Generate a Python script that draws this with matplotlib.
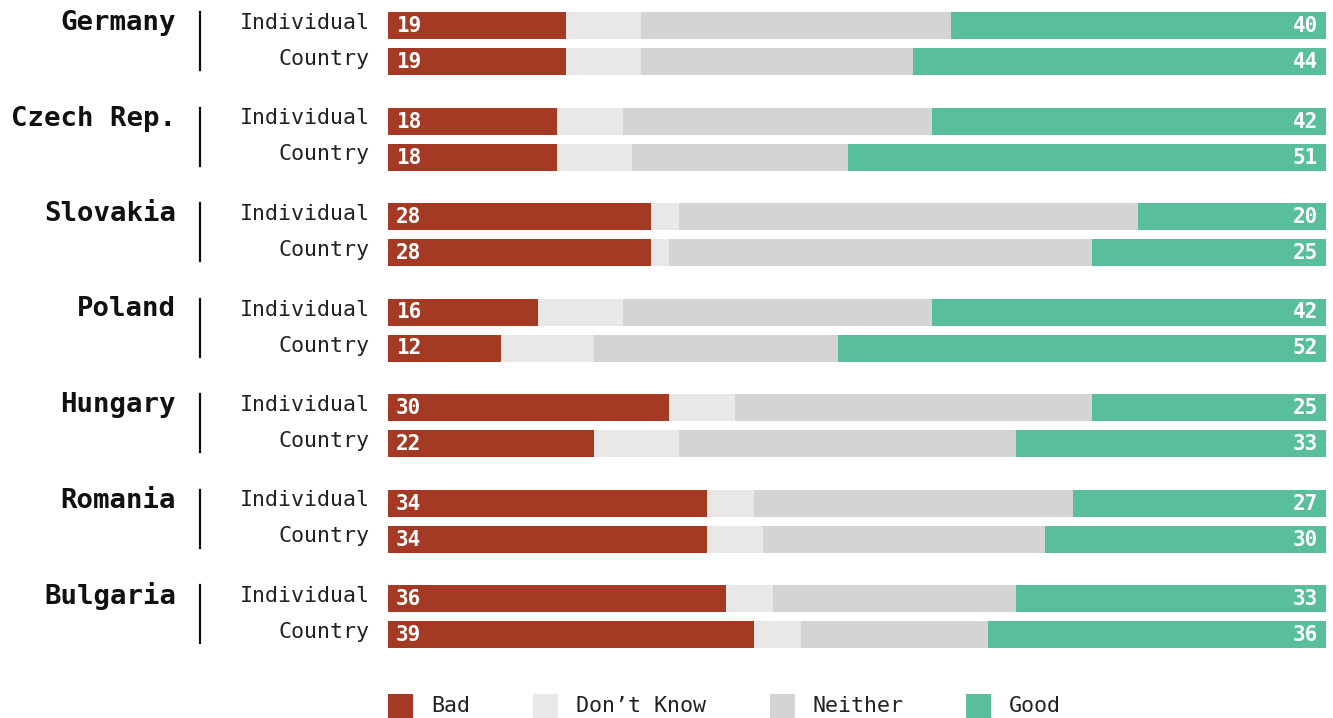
import matplotlib
matplotlib.use("Agg")
import matplotlib.pyplot as plt
from matplotlib.patches import Rectangle
from matplotlib.transforms import blended_transform_factory
from matplotlib.lines import Line2D

countries = ["Germany", "Czech Rep.", "Slovakia", "Poland", "Hungary", "Romania", "Bulgaria"]
rows = ["Individual", "Country"]

# per country: [Individual, Country]
bad = [[19, 19], [18, 18], [28, 28], [16, 12], [30, 22], [34, 34], [36, 39]]
dont_know = [[8, 8], [7, 8], [3, 2], [9, 10], [7, 9], [5, 6], [5, 5]]
neither = [[33, 29], [33, 23], [49, 45], [33, 26], [38, 36], [34, 30], [26, 20]]
good = [[40, 44], [42, 51], [20, 25], [42, 52], [25, 33], [27, 30], [33, 36]]

categories = ["Bad", "Don\u2019t Know", "Neither", "Good"]
colors = ["#A53A24", "#E9E8E6", "#D4D4D4", "#58BF9A"]

W, H = 1333, 718
fig = plt.figure(figsize=(W / 100, H / 100), dpi=100)
ax = fig.add_axes([388 / W, 0, 938 / W, 1])
ax.set_xlim(0, 100)
ax.set_ylim(H, 0)
ax.axis("off")

mono = "DejaVu Sans Mono"
tr = blended_transform_factory(fig.transFigure, ax.transData)

group_top = 43.5
group_step = 95.5
row_off = 18
bar_h = 27

series = [bad, dont_know, neither, good]
for i, country in enumerate(countries):
    gc = group_top + i * group_step
    for j, row in enumerate(rows):
        y = gc + (-row_off if j == 0 else row_off)
        left = 0
        for k, s in enumerate(series):
            v = s[i][j]
            ax.barh(y, v, left=left, height=bar_h, color=colors[k], linewidth=0)
            left += v
        ax.text(0.85, y + 0.5, str(bad[i][j]), color="white", fontfamily=mono,
                fontweight="bold", fontsize=15, va="center", ha="left")
        ax.text(99.15, y + 0.5, str(good[i][j]), color="white", fontfamily=mono,
                fontweight="bold", fontsize=15, va="center", ha="right")
        ax.text(370 / W, y - 2.5, row, transform=tr, fontfamily=mono, fontsize=15.6,
                color="#222222", va="center", ha="right")
    ax.text(176 / W, gc - 20.5, country, transform=tr, fontfamily=mono, fontsize=19.7,
            fontweight="bold", color="#111111", va="center", ha="right")
    fig.add_artist(Line2D([200 / W, 200 / W], [gc - 31.5, gc + 26.5], transform=tr,
                          color="#111111", linewidth=1.6))

# legend
legend_x = [388, 533, 770, 966]
for x, lab, c in zip(legend_x, categories, colors):
    fig.add_artist(Rectangle((x / W, 694), 25 / W, 24, transform=tr, color=c, linewidth=0))
    ax.text((x + 43) / W, 706, lab, transform=tr, fontfamily=mono, fontsize=15.6,
            color="#222222", va="center", ha="left")

fig.savefig("out.png", dpi=100, facecolor="white")
